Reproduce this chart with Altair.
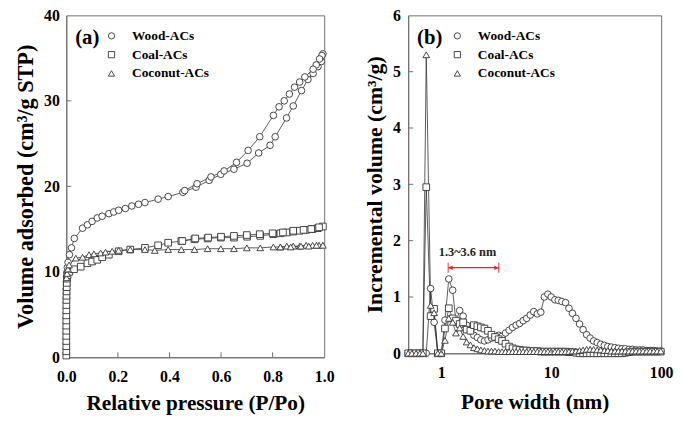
import altair as alt
import pandas as pd

FONT = "Liberation Serif"
INK = "#333333"
FRAME = "#6e6e6e"
RED = "#e3242b"

series_names = ["Wood-ACs", "Coal-ACs", "Coconut-ACs"]
series_shapes = ["circle", "square", "triangle-up"]

# ---------------- Panel (a): N2 isotherms (adsorption then desorption) ----------------
wood_p = [0.0002, 0.0005, 0.001, 0.002, 0.004, 0.007, 0.012, 0.02, 0.031, 0.063,
          0.082, 0.10, 0.12, 0.139, 0.165, 0.184, 0.203, 0.229, 0.254, 0.28,
          0.305, 0.356, 0.395, 0.452, 0.503, 0.554, 0.599, 0.65, 0.701, 0.746,
          0.79, 0.81, 0.854, 0.88, 0.912, 0.937, 0.957, 0.976, 0.989, 0.995,
          0.991, 0.982, 0.969, 0.957, 0.925, 0.905, 0.885, 0.865, 0.845, 0.825,
          0.803, 0.75, 0.705, 0.66, 0.612, 0.561, 0.507, 0.459]
wood_v = [8.0, 8.8, 9.4, 9.9, 10.5, 11.1, 12.0, 12.8, 13.9, 15.1,
          15.5, 15.9, 16.3, 16.5, 16.8, 17.0, 17.2, 17.4, 17.7, 17.9,
          18.1, 18.5, 18.8, 19.3, 19.9, 20.7, 21.4, 22.0, 22.7, 23.9,
          24.8, 25.8, 28.0, 29.4, 31.2, 32.5, 33.2, 34.0, 34.6, 35.5,
          35.3, 34.9, 34.2, 33.7, 32.8, 32.2, 31.6, 30.8, 30.0, 29.3,
          28.3, 25.8, 24.2, 22.8, 21.8, 21.1, 20.3, 19.5]

coal_p = [0.000001, 0.000002, 0.000004, 0.000007, 0.00001, 0.00002, 0.00004, 0.00007, 0.0001, 0.0002,
          0.0003, 0.0005, 0.0007, 0.001, 0.0015, 0.002, 0.003, 0.005, 0.012, 0.03,
          0.056, 0.082, 0.10, 0.12, 0.139, 0.165, 0.203, 0.248, 0.305, 0.356,
          0.395, 0.446, 0.497, 0.548, 0.599, 0.65, 0.701, 0.752, 0.803, 0.83,
          0.855, 0.88, 0.905, 0.93, 0.955, 0.975, 0.995,
          0.98, 0.95, 0.92, 0.88, 0.84, 0.80, 0.75, 0.70, 0.65, 0.60, 0.55, 0.50, 0.45]
coal_v = [0.2, 0.7, 1.3, 1.9, 2.5, 3.1, 3.7, 4.3, 4.9, 5.5,
          6.1, 6.7, 7.2, 7.7, 8.2, 8.7, 9.2, 9.6, 10.0, 10.3,
          10.6, 11.0, 11.2, 11.4, 11.7, 12.0, 12.4, 12.6, 12.8, 13.1,
          13.4, 13.6, 13.8, 13.9, 14.0, 14.0, 14.1, 14.2, 14.4, 14.5,
          14.6, 14.7, 14.8, 14.9, 15.0, 15.1, 15.3,
          15.2, 15.0, 14.9, 14.8, 14.6, 14.5, 14.4, 14.3, 14.2, 14.1, 14.0, 13.9, 13.6]

coco_p = [0.001, 0.003, 0.006, 0.011, 0.037, 0.063, 0.088, 0.107, 0.133, 0.152,
          0.178, 0.203, 0.248, 0.305, 0.343, 0.395, 0.446, 0.497, 0.548, 0.599,
          0.65, 0.70, 0.752, 0.803, 0.83, 0.855, 0.88, 0.905, 0.93, 0.955,
          0.98, 0.995,
          0.97, 0.94, 0.91, 0.87, 0.83]
coco_v = [9.3, 9.8, 10.3, 10.8, 11.6, 11.7, 12.0, 12.1, 12.2, 12.3,
          12.4, 12.5, 12.6, 12.6, 12.5, 12.6, 12.6, 12.6, 12.7, 12.7,
          12.7, 12.8, 12.8, 12.9, 12.9, 13.0, 13.0, 13.0, 13.1, 13.1,
          13.1, 13.1,
          13.1, 13.0, 13.0, 12.9, 12.9]

# ---------------- Panel (b): pore size distribution ----------------
pore_w = [0.50, 0.54, 0.59, 0.64, 0.68, 0.73, 0.80, 0.86, 0.93, 1.00,
          1.08, 1.17, 1.27, 1.36, 1.47, 1.58, 1.70, 1.84, 1.98, 2.13,
          2.29, 2.47, 2.66, 2.86, 3.08, 3.32, 3.57, 3.84, 4.14, 4.45,
          4.80, 5.16, 5.56, 5.98, 6.44, 6.93, 7.47, 8.04, 8.65, 9.32,
          10.0, 10.8, 11.6, 12.5, 13.5, 14.5, 15.6, 16.8, 18.1, 19.5,
          21.0, 22.6, 24.3, 26.2, 28.2, 30.4, 32.7, 35.2, 37.9, 40.8,
          44.0, 47.3, 51.0, 54.9, 59.1, 63.6, 68.5, 73.8, 79.5, 85.6,
          92.1, 99.2]
wood_psd = [0, 0, 0, 0, 0, 0, 1.15, 0.55, 0, 0,
            0.59, 1.32, 1.12, 0.55, 0.76, 0.66, 0.50, 0.40, 0.32, 0.28,
            0.24, 0.22, 0.24, 0.27, 0.29, 0.32, 0.30, 0.36, 0.41, 0.46,
            0.50, 0.53, 0.58, 0.62, 0.68, 0.74, 0.70, 0.73, 1.00, 1.05,
            1.00, 0.95, 0.94, 0.92, 0.90, 0.80, 0.71, 0.62, 0.52, 0.42,
            0.33, 0.27, 0.22, 0.19, 0.16, 0.14, 0.12, 0.11, 0.10, 0.09,
            0.08, 0.08, 0.07, 0.07, 0.06, 0.06, 0.06, 0.05, 0.05, 0.05,
            0.04, 0.04]
coal_psd = [0, 0, 0, 0, 0, 2.95, 0.66, 0.79, 0, 0,
            0.44, 0.80, 0.62, 0.58, 0.52, 0.55, 0.42, 0.40, 0.50, 0.48,
            0.46, 0.44, 0.40, 0.33, 0.29, 0.25, 0.22, 0.17, 0.12, 0.09,
            0.07, 0.06, 0.05, 0.05, 0.04, 0.04, 0.04, 0.03, 0.03, 0.03,
            0.03, 0.03, 0.03, 0.03, 0.03, 0.02, 0.02, 0.01, 0.0, 0.0,
            0.0, 0.0, 0.0, 0.0, 0.0, 0.0, 0.0, 0.0, 0.0, 0.0,
            0.0, 0.01, 0.02, 0.03, 0.03, 0.03, 0.03, 0.03, 0.03, 0.03,
            0.03, 0.03]
coco_psd = [0, 0, 0, 0, 0, 5.30, 0.85, 0.72, 0, 0,
            0.23, 0.62, 0.55, 0.36, 0.45, 0.30, 0.20, 0.15, 0.10, 0.08,
            0.06, 0.05, 0.04, 0.04, 0.04, 0.03, 0.03, 0.03, 0.03, 0.03,
            0.03, 0.03, 0.03, 0.03, 0.03, 0.03, 0.03, 0.03, 0.03, 0.03,
            0.03, 0.03, 0.03, 0.03, 0.03, 0.03, 0.04, 0.04, 0.05, 0.06,
            0.07, 0.07, 0.07, 0.06, 0.06, 0.05, 0.05, 0.04, 0.04, 0.04,
            0.04, 0.04, 0.04, 0.04, 0.04, 0.04, 0.04, 0.04, 0.04, 0.04,
            0.04, 0.04]

# annotation of panel (b)
range_label = "1.3~3.6 nm"
range_ends = [1.156, 3.33]
range_y = 1.52
range_label_x = 1.73
range_label_y = 1.8


def long_df(xs_list, ys_list):
    rows = []
    for name, xs, ys in zip(series_names, xs_list, ys_list):
        for i, (x, y) in enumerate(zip(xs, ys)):
            rows.append({"series": name, "x": x, "y": y, "i": i})
    return pd.DataFrame(rows)


df_a = long_df([wood_p, coal_p, coco_p], [wood_v, coal_v, coco_v])
df_b = long_df([pore_w] * 3, [wood_psd, coal_psd, coco_psd])


def make_legend(lx, ly):
    return alt.Legend(title=None, orient="none", legendX=lx, legendY=ly,
                      labelFont=FONT, labelFontSize=13.5, labelFontWeight="bold",
                      labelColor="black", symbolStrokeWidth=0.9,
                      symbolSize=40, labelOffset=14, rowPadding=4, padding=0)


def panel(df, xscale, yscale, xaxis, yaxis, leg, W, H, xt, yt, tag, extra=()):
    X = lambda: alt.X("x:Q", scale=xscale, axis=xaxis)
    Y = lambda: alt.Y("y:Q", scale=yscale, axis=yaxis)
    base = alt.Chart(df)
    lines = base.mark_line(color=INK, strokeWidth=0.8).encode(
        x=X(), y=Y(), detail="series:N", order="i:Q")
    pts = base.mark_point(filled=False, strokeWidth=0.9, size=45, opacity=1, fillOpacity=1).encode(
        x=X(), y=Y(),
        shape=alt.Shape("series:N", scale=alt.Scale(domain=series_names, range=series_shapes),
                        legend=leg, sort=series_names),
        stroke=alt.Stroke("series:N", scale=alt.Scale(domain=series_names, range=[INK] * 3),
                          legend=leg, sort=series_names),
        fill=alt.Fill("series:N", scale=alt.Scale(domain=series_names, range=["white"] * 3),
                      legend=leg, sort=series_names))
    xt_rule = alt.Chart(pd.DataFrame({"x": xt})).mark_rule(color=FRAME, strokeWidth=1).encode(
        x=X(), y=alt.value(H), y2=alt.value(H - 5))
    yt_rule = alt.Chart(pd.DataFrame({"y": yt})).mark_rule(color=FRAME, strokeWidth=1).encode(
        y=Y(), x=alt.value(0), x2=alt.value(5))
    tag_txt = alt.Chart(pd.DataFrame({"t": [tag]})).mark_text(
        font=FONT, fontSize=21, fontWeight="bold", align="left", baseline="middle",
        color="black").encode(text="t:N", x=alt.value(9), y=alt.value(23))
    layers = [lines, pts, xt_rule, yt_rule, tag_txt]
    for make in extra:
        layers.append(make(X, Y))
    return alt.layer(*layers).properties(width=W, height=H)


# panel a
xs_a = alt.Scale(domain=[0, 1], nice=False)
ys_a = alt.Scale(domain=[0, 40], nice=False)
chart_a = panel(
    df_a, xs_a, ys_a,
    alt.Axis(values=[0, 0.2, 0.4, 0.6, 0.8, 1.0], format=".1f", title="Relative pressure (P/Po)",
             labelPadding=12, titlePadding=8, labelFlush=False),
    alt.Axis(values=[0, 10, 20, 30, 40], title="Volume adsorbed (cm³/g STP)",
             labelPadding=7, titlePadding=6, titleFontSize=22.5),
    make_legend(39, 14), 261, 346, [0.2, 0.4, 0.6, 0.8], [10, 20, 30], "(a)")

# panel b annotation layers
def ann_rule(X, Y):
    return alt.Chart(pd.DataFrame({"x": [range_ends[0]], "x1": [range_ends[1]], "y": [range_y]})).mark_rule(
        color=RED, strokeWidth=1.3).encode(x=X(), x2="x1:Q", y=Y())

def ann_caps(X, Y):
    return alt.Chart(pd.DataFrame({"x": range_ends, "y": [range_y, range_y]})).mark_tick(
        orient="vertical", size=10, thickness=1.3, color=RED).encode(x=X(), y=Y())

def head_l(X, Y):
    return alt.Chart(pd.DataFrame({"x": [range_ends[0]], "y": [range_y]})).mark_point(
        shape="M0,0L1,-0.5L1,0.5Z", filled=True, color=RED, size=80, opacity=1).encode(x=X(), y=Y())

def head_r(X, Y):
    return alt.Chart(pd.DataFrame({"x": [range_ends[1]], "y": [range_y]})).mark_point(
        shape="M0,0L-1,-0.5L-1,0.5Z", filled=True, color=RED, size=80, opacity=1).encode(x=X(), y=Y())

def ann_txt(X, Y):
    return alt.Chart(pd.DataFrame({"x": [range_label_x], "y": [range_label_y], "t": [range_label]})).mark_text(
        font=FONT, fontSize=12.5, fontWeight="bold", color="#222222", align="center",
        baseline="middle").encode(x=X(), y=Y(), text="t:N")

xs_b = alt.Scale(type="log", domain=[0.5, 100], nice=False)
ys_b = alt.Scale(domain=[0, 6], nice=False)
chart_b = panel(
    df_b, xs_b, ys_b,
    alt.Axis(values=[1, 10, 100], format="~g", title="Pore width (nm)",
             labelPadding=11, titlePadding=12, labelFlush=False),
    alt.Axis(values=[0, 1, 2, 3, 4, 5, 6], title="Incremental volume (cm³/g)",
             labelPadding=8, titlePadding=6, titleFontSize=22),
    make_legend(43, 14), 256, 342, [1, 10], [1, 2, 3, 4, 5], "(b)",
    extra=(ann_rule, ann_caps, head_l, head_r, ann_txt))

chart = (
    alt.hconcat(chart_a, chart_b, spacing=28)
    .resolve_scale(shape="independent", stroke="independent", fill="independent")
    .resolve_legend(shape="independent", stroke="independent", fill="independent")
    .properties(padding={"left": 6, "top": -4, "right": 0, "bottom": 0})
    .configure_view(stroke=FRAME, strokeWidth=1)
    .configure_axis(domainColor=FRAME, domainWidth=1, ticks=False, tickSize=0, grid=False,
                    labelFont=FONT, labelFontSize=16, labelFontWeight="bold", labelColor="black",
                    titleFont=FONT, titleFontSize=21.5, titleFontWeight="bold", titleColor="black")
)

chart.save("out.html", embed_options={"renderer": "svg", "actions": False})
